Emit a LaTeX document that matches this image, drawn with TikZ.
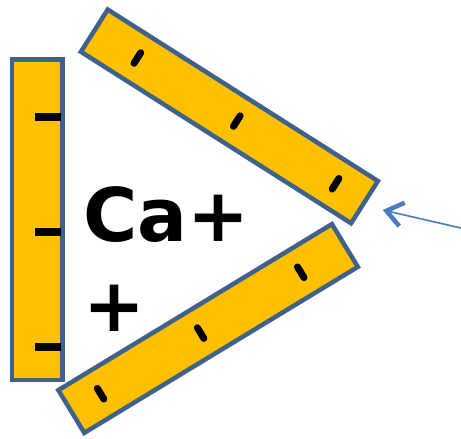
\documentclass[tikz,border=0pt]{standalone}
\usepackage{fontspec}
\setmainfont{DejaVu Sans}
\usetikzlibrary{calc,arrows.meta}
\definecolor{barfill}{HTML}{FFC000}
\definecolor{barline}{HTML}{3F628C}
\definecolor{arrowblue}{HTML}{4A7EBB}
\tikzset{
  bar/.style={draw=barline, fill=barfill, line width=4.5pt, minimum width=320pt, minimum height=50pt, inner sep=0pt},
  tickmark/.style={fill=black, rounded corners=3.5pt, minimum width=7pt, minimum height=19.5pt, inner sep=0pt},
  minusmark/.style={fill=black, minimum width=26pt, minimum height=8pt, inner sep=0pt},
  bigtext/.style={font=\fontsize{74}{90}\selectfont\bfseries, inner sep=0pt, anchor=base west},
  pointer/.style={draw=arrowblue, line width=1.6pt, -{Straight Barb[length=16pt, width=24pt, line width=4.5pt]}}
}
\begin{document}
\begin{tikzpicture}[x=1pt, y=-1pt]
\useasboundingbox (0,0) rectangle (461,439);
% vertical bar
\node[bar, rotate=90, minimum width=320.5pt, minimum height=50.5pt] (left) at (37.25,219.75) {};
\node[minusmark] (m1) at (48,117) {};
\node[minusmark] (m2) at (48,232) {};
\node[minusmark] (m3) at (48,347) {};
% upper bar
\node[bar, rotate=-32.4] (upper) at (229.4,116.4) {};
\node[tickmark, rotate=-32.4] (u1) at ($(upper.west)!0.164!(upper.east)$) {};
\node[tickmark, rotate=-32.4] (u2) at ($(upper.west)!0.527!(upper.east)$) {};
\node[tickmark, rotate=-32.4] (u3) at ($(upper.west)!0.8875!(upper.east)$) {};
% lower bar
\node[bar, rotate=31.25] (lower) at (208.1,328.5) {};
\node[tickmark, rotate=31.25] (l1) at ($(lower.west)!0.1125!(lower.east)$) {};
\node[tickmark, rotate=31.25] (l2) at ($(lower.west)!0.473!(lower.east)$) {};
\node[tickmark, rotate=31.25] (l3) at ($(lower.west)!0.834!(lower.east)$) {};
% text
\node[bigtext] (ca) at (83,241) {Ca+};
\node[bigtext] (plus) at (83.5,331.5) {+};
% arrow
\coordinate (src) at (462,228.3);
\coordinate (tip) at (382.7,210);
\draw[pointer] (src) -- (tip);
\end{tikzpicture}
\end{document}
